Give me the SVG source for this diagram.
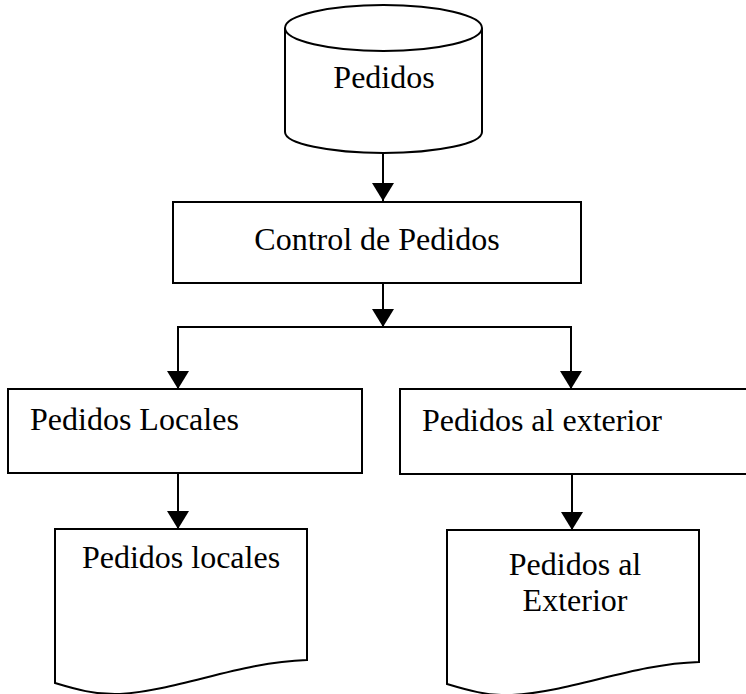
<svg xmlns="http://www.w3.org/2000/svg" width="746" height="694" viewBox="0 0 746 694">
  <style>
    .shape { fill: #ffffff; stroke: #000000; stroke-width: 2; }
    .label { font-family: "Liberation Serif", "Times New Roman", serif; font-size: 32px; fill: #000000; }
    .conn { fill: none; stroke: #000000; stroke-width: 2; }
  </style>
  <defs>
    <marker id="arrow" viewBox="0 0 18 22" refX="18" refY="11" markerWidth="18" markerHeight="22" markerUnits="userSpaceOnUse" orient="auto">
      <path d="M0,0 L18,11 L0,22 z" fill="#000000"/>
    </marker>
  </defs>
  <rect width="746" height="694" fill="#ffffff"/>

  <g id="connectors">
    <path class="conn" d="M383,153 V201" marker-end="url(#arrow)"/>
    <path class="conn" d="M383,283 V327" marker-end="url(#arrow)"/>
    <path class="conn" d="M383,327 H178 V389" marker-end="url(#arrow)"/>
    <path class="conn" d="M383,327 H571 V389" marker-end="url(#arrow)"/>
    <path class="conn" d="M178,473 V529" marker-end="url(#arrow)"/>
    <path class="conn" d="M572,474 V530" marker-end="url(#arrow)"/>
  </g>

  <g id="pedidos-db">
    <path class="shape" d="M285,28 V132 A98.5,21 0 0 0 482,132 V28"/>
    <ellipse class="shape" cx="383.5" cy="28" rx="98.5" ry="23"/>
    <text class="label" x="384" y="88" text-anchor="middle">Pedidos</text>
  </g>

  <g id="control-pedidos">
    <rect class="shape" x="173" y="202" width="408" height="81"/>
    <text class="label" x="377" y="250" text-anchor="middle">Control de Pedidos</text>
  </g>

  <g id="pedidos-locales-proc">
    <rect class="shape" x="8" y="389" width="354" height="84"/>
    <text class="label" x="30" y="430">Pedidos Locales</text>
  </g>

  <g id="pedidos-exterior-proc">
    <rect class="shape" x="400" y="389" width="360" height="85"/>
    <text class="label" x="422" y="431">Pedidos al exterior</text>
  </g>

  <g id="pedidos-locales-doc">
    <path class="shape" d="M55,529 H307 V660 C240,662 180,690 120,694 C95,695 75,689 55,683 Z"/>
    <text class="label" x="181" y="568" text-anchor="middle">Pedidos locales</text>
  </g>

  <g id="pedidos-exterior-doc">
    <path class="shape" d="M447,530 H699 V662 C632,664 572,692 512,695 C487,696 467,690 447,684 Z"/>
    <text class="label" x="575" y="575" text-anchor="middle">Pedidos al</text>
    <text class="label" x="575" y="611" text-anchor="middle">Exterior</text>
  </g>
</svg>
